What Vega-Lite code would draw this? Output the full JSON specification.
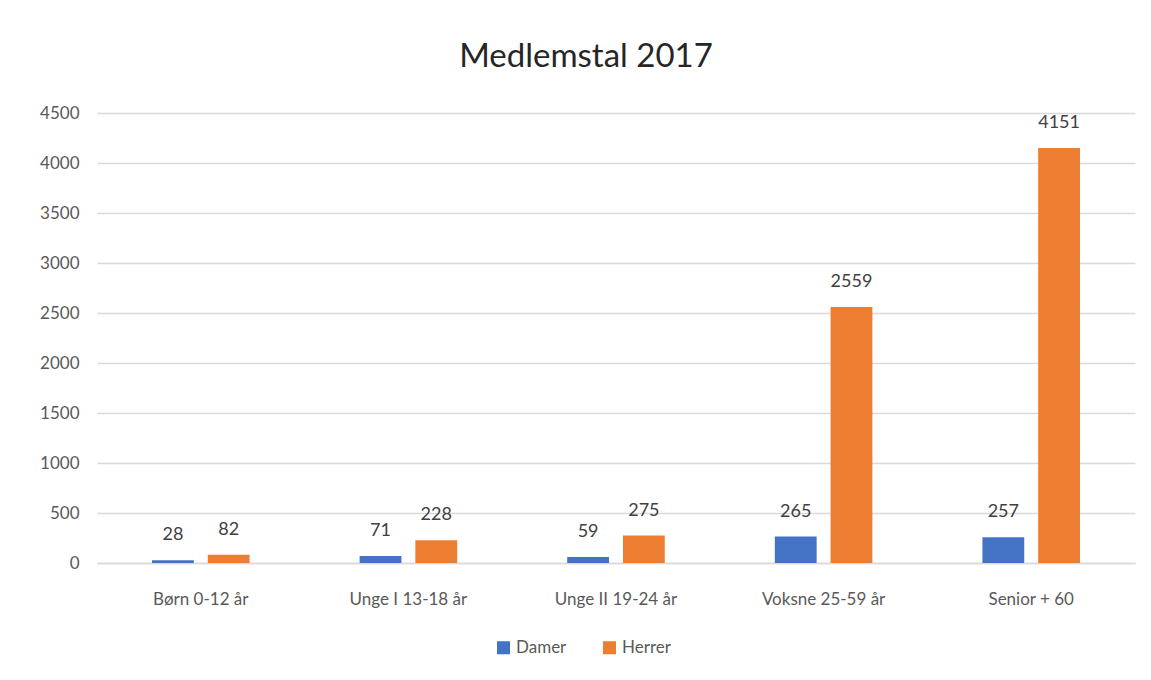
{
  "$schema": "https://vega.github.io/schema/vega-lite/v6.json",
  "width": 1038,
  "height": 450,
  "autosize": {"type": "none"},
  "padding": {"left": 97, "top": 113, "right": 16, "bottom": 117},
  "background": "white",
  "title": {
    "text": "Medlemstal 2017",
    "fontSize": 33,
    "font": "Lato",
    "fontWeight": "normal",
    "color": "#262626",
    "offset": 30,
    "dx": -30
  },
  "data": {
    "values": [
      {"kategori": "Børn 0-12 år", "køn": "Damer", "antal": 28},
      {"kategori": "Børn 0-12 år", "køn": "Herrer", "antal": 82},
      {"kategori": "Unge I 13-18 år", "køn": "Damer", "antal": 71},
      {"kategori": "Unge I 13-18 år", "køn": "Herrer", "antal": 228},
      {"kategori": "Unge II 19-24 år", "køn": "Damer", "antal": 59},
      {"kategori": "Unge II 19-24 år", "køn": "Herrer", "antal": 275},
      {"kategori": "Voksne 25-59 år", "køn": "Damer", "antal": 265},
      {"kategori": "Voksne 25-59 år", "køn": "Herrer", "antal": 2559},
      {"kategori": "Senior + 60", "køn": "Damer", "antal": 257},
      {"kategori": "Senior + 60", "køn": "Herrer", "antal": 4151}
    ]
  },
  "encoding": {
    "x": {
      "field": "kategori",
      "type": "nominal",
      "sort": null,
      "scale": {"paddingInner": 0.53, "paddingOuter": 0.265},
      "axis": {
        "title": null,
        "labelAngle": 0,
        "labelFont": "Lato",
        "labelFontSize": 17,
        "labelColor": "#595959",
        "labelPadding": 28,
        "ticks": false,
        "domainColor": "#d9d9d9",
        "domainWidth": 1.5
      }
    },
    "xOffset": {
      "field": "køn",
      "type": "nominal",
      "scale": {"paddingInner": 0.25, "paddingOuter": 0}
    },
    "y": {
      "field": "antal",
      "type": "quantitative",
      "scale": {"domain": [0, 4500], "nice": false},
      "axis": {
        "title": null,
        "format": "d",
        "values": [0, 500, 1000, 1500, 2000, 2500, 3000, 3500, 4000, 4500],
        "labelFont": "Lato",
        "labelFontSize": 17,
        "labelColor": "#595959",
        "labelPadding": 18,
        "ticks": false,
        "domain": false,
        "gridColor": "#d9d9d9",
        "gridWidth": 1.5
      }
    }
  },
  "layer": [
    {
      "mark": {"type": "bar"},
      "encoding": {
        "color": {
          "field": "køn",
          "type": "nominal",
          "scale": {"domain": ["Damer", "Herrer"], "range": ["#4472C4", "#ED7D31"]},
          "legend": {
            "title": null,
            "orient": "none",
            "legendX": 398,
            "legendY": 526,
            "direction": "horizontal",
            "symbolType": "square",
            "symbolSize": 170,
            "symbolStrokeWidth": 0,
            "labelFont": "Lato",
            "labelFontSize": 17,
            "labelColor": "#595959",
            "labelOffset": 4,
            "columnPadding": 34
          }
        }
      }
    },
    {
      "mark": {"type": "text", "baseline": "middle", "dy": -25, "font": "Lato", "fontSize": 18, "color": "#404040"},
      "encoding": {
        "text": {"field": "antal", "type": "quantitative"}
      }
    }
  ],
  "config": {
    "view": {"stroke": null}
  }
}
